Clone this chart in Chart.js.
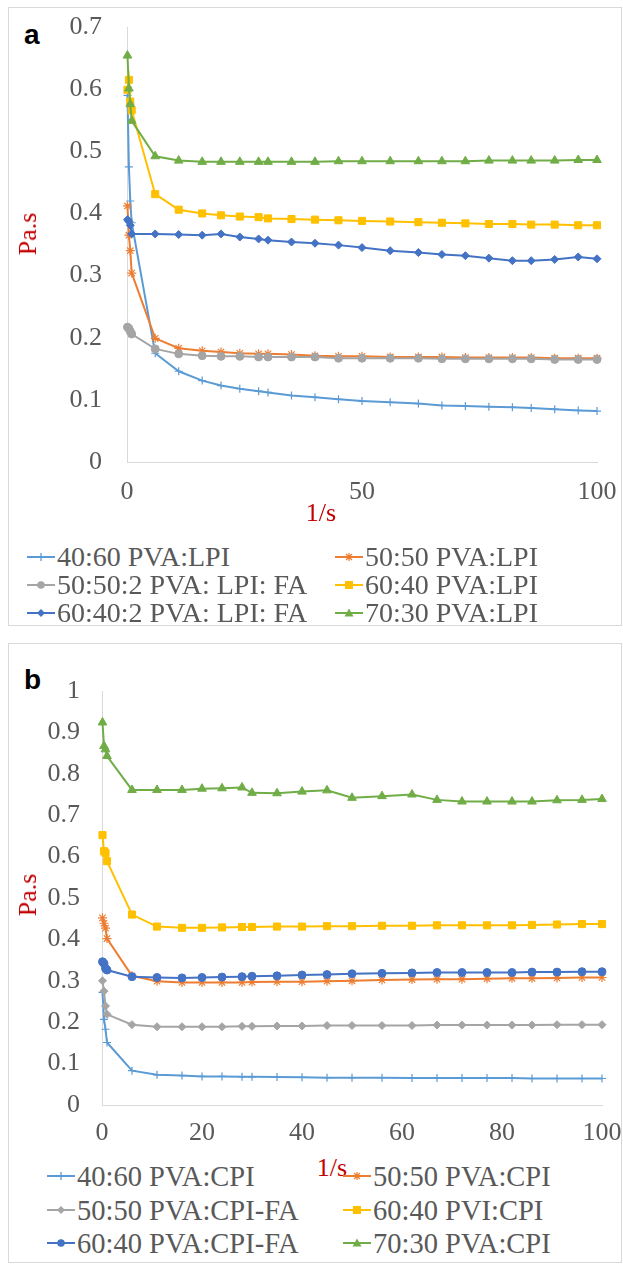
<!DOCTYPE html>
<html>
<head>
<meta charset="utf-8">
<script src="https://cdn.jsdelivr.net/npm/chart.js"></script>
<style>
  body { margin: 0; width: 623px; height: 1264px; position: relative; background: #fff; overflow: hidden;
         font-family: "Liberation Serif", "Times New Roman", serif; }
  .frame { position: absolute; left: 8px; width: 614px; box-sizing: border-box; border: 1px solid #d9d9d9; }
  canvas { position: absolute; left: 8px; }
  .tag { position: absolute; left: 24px; font: bold 28px "Liberation Sans", Arial, sans-serif; line-height: 28px; color: #000; }
  .axis-title { position: absolute; font-size: 26px; line-height: 26px; color: #c00000; white-space: nowrap;
                transform: translate(-50%, -50%); }
  .axis-title.vert { transform: translate(-50%, -50%) rotate(-90deg); }
  .legend-item { position: absolute; white-space: nowrap; color: #595959; display: flex; align-items: center; }
  .legend-item svg { margin-right: 2px; flex: none; }
</style>
</head>
<body>
<div class="frame" style="top:7px;height:619px"></div>
<div class="frame" style="top:643px;height:620px"></div>

<div class="tag" style="top:21px">a</div>
<div class="tag" style="top:666px">b</div>

<canvas id="chartA" width="614" height="500" style="top:7px"></canvas>
<canvas id="chartB" width="614" height="507" style="top:643px"></canvas>

<div class="axis-title vert" style="left:28px;top:234px">Pa.s</div>
<div class="axis-title" style="left:321px;top:513px">1/s</div>
<div class="axis-title vert" style="left:28px;top:895px">Pa.s</div>
<div class="axis-title" style="left:332px;top:1168px">1/s</div>

<div id="legendA"></div>
<div id="legendB"></div>

<script>
// shear rate (1/s), shared by every series
const shearRate = [0.1, 0.4, 0.7, 1, 6, 11, 16, 20, 24, 28, 30, 35, 40, 45, 50, 56, 62, 67, 72, 77, 82, 86, 91, 96, 100];

// panel a - LPI blends, viscosity in Pa.s
const lpiLabels = ['40:60 PVA:LPI', '50:50 PVA:LPI', '50:50:2 PVA: LPI: FA', '60:40 PVA:LPI', '60:40:2 PVA: LPI: FA', '70:30 PVA:LPI'];
const lpi4060 = [0.590, 0.475, 0.420, 0.385, 0.175, 0.146, 0.131, 0.123, 0.118, 0.114, 0.112, 0.107, 0.104,
                 0.101, 0.098, 0.096, 0.094, 0.091, 0.090, 0.089, 0.088, 0.087, 0.085, 0.083, 0.082];
const lpi5050 = [0.412, 0.365, 0.340, 0.304, 0.199, 0.183, 0.179, 0.177, 0.175, 0.174, 0.174, 0.173, 0.171,
                 0.170, 0.170, 0.169, 0.169, 0.169, 0.168, 0.168, 0.168, 0.168, 0.167, 0.167, 0.167];
const lpi5050fa = [0.217, 0.215, 0.210, 0.206, 0.182, 0.174, 0.171, 0.170, 0.170, 0.169, 0.169, 0.169, 0.169,
                   0.167, 0.167, 0.167, 0.167, 0.166, 0.166, 0.166, 0.166, 0.166, 0.165, 0.165, 0.165];
const lpi6040 = [0.599, 0.615, 0.580, 0.566, 0.431, 0.406, 0.400, 0.397, 0.395, 0.394, 0.392, 0.391, 0.390,
                 0.389, 0.388, 0.387, 0.386, 0.385, 0.384, 0.383, 0.383, 0.382, 0.382, 0.381, 0.381];
const lpi6040fa = [0.390, 0.387, 0.381, 0.367, 0.367, 0.366, 0.365, 0.367, 0.362, 0.359, 0.357, 0.354, 0.352,
                   0.349, 0.345, 0.340, 0.337, 0.334, 0.332, 0.328, 0.324, 0.324, 0.326, 0.330, 0.327];
const lpi7030 = [0.654, 0.601, 0.576, 0.549, 0.492, 0.485, 0.483, 0.483, 0.483, 0.483, 0.483, 0.483, 0.483,
                 0.484, 0.484, 0.484, 0.484, 0.484, 0.484, 0.485, 0.485, 0.485, 0.485, 0.486, 0.486];

// panel b - CPI blends
const cpiLabels = ['40:60 PVA:CPI', '50:50 PVA:CPI', '50:50 PVA:CPI-FA', '60:40 PVI:CPI', '60:40 PVA:CPI-FA', '70:30 PVA:CPI'];
const cpi4060 = [0.272, 0.207, 0.183, 0.151, 0.083, 0.073, 0.071, 0.069, 0.069, 0.068, 0.068, 0.0675, 0.067,
                 0.066, 0.066, 0.066, 0.065, 0.065, 0.065, 0.065, 0.065, 0.064, 0.064, 0.064, 0.064];
const cpi5050 = [0.452, 0.439, 0.427, 0.402, 0.312, 0.299, 0.296, 0.296, 0.296, 0.296, 0.297, 0.298, 0.298,
                 0.299, 0.300, 0.302, 0.303, 0.304, 0.304, 0.305, 0.306, 0.306, 0.307, 0.308, 0.308];
const cpi5050fa = [0.300, 0.275, 0.239, 0.219, 0.194, 0.189, 0.189, 0.189, 0.189, 0.190, 0.190, 0.191, 0.191,
                   0.192, 0.192, 0.192, 0.192, 0.193, 0.193, 0.193, 0.193, 0.193, 0.194, 0.194, 0.194];
const cpi6040 = [0.652, 0.613, 0.609, 0.589, 0.460, 0.431, 0.428, 0.428, 0.429, 0.430, 0.430, 0.431, 0.431,
                 0.432, 0.432, 0.433, 0.433, 0.434, 0.434, 0.434, 0.434, 0.435, 0.436, 0.437, 0.437];
const cpi6040fa = [0.346, 0.342, 0.330, 0.326, 0.310, 0.308, 0.307, 0.308, 0.309, 0.310, 0.311, 0.312, 0.314,
                   0.315, 0.317, 0.318, 0.319, 0.320, 0.320, 0.320, 0.320, 0.321, 0.321, 0.322, 0.322];
const cpi7030 = [0.924, 0.867, 0.859, 0.843, 0.761, 0.761, 0.761, 0.764, 0.765, 0.767, 0.754, 0.753, 0.757,
                 0.760, 0.742, 0.746, 0.750, 0.737, 0.733, 0.733, 0.733, 0.733, 0.736, 0.737, 0.739];

const colors = ['#5b9bd5', '#ed7d31', '#a5a5a5', '#ffc000', '#4472c4', '#70ad47'];

function makeSeries(label, values, color, style, radius, i) {
  return {
    label: label,
    data: shearRate.map((x, k) => ({ x: x, y: values[k] })),
    showLine: true,
    borderColor: color,
    backgroundColor: color,
    borderWidth: 2,
    pointStyle: style,
    pointRadius: radius,
    pointBorderWidth: (style === 'cross' || style === 'star') ? 1.2 : 1,
    pointBorderColor: color,
    pointBackgroundColor: color,
    clip: false,
    order: -i   // later series drawn on top
  };
}

const tickFont = { family: '"Liberation Serif", "Times New Roman", serif', size: 26 };

function buildChart(id, datasets, yMax, xStep, yPad, box) {
  return new Chart(document.getElementById(id), {
    type: 'scatter',
    data: { datasets: datasets },
    options: {
      responsive: false,
      animation: false,
      layout: { padding: { left: 0, top: box.top, right: box.right, bottom: 0 } },
      plugins: { legend: { display: false }, tooltip: { enabled: false } },
      scales: {
        x: {
          type: 'linear', min: 0, max: 100,
          grid: { display: false, drawTicks: false },
          border: { display: true, color: '#d9d9d9', width: 1 },
          ticks: { stepSize: xStep, font: tickFont, color: '#595959', padding: box.xPad, maxRotation: 0, autoSkip: false },
          // fixed height, and no extra room for the end labels so the plot area stays put
          afterFit: s => { s.height = 45; s.paddingLeft = 0; s.paddingRight = 0; }
        },
        y: {
          min: 0, max: yMax,
          grid: { display: false, drawTicks: false },
          border: { display: true, color: '#d9d9d9', width: 1 },
          ticks: { stepSize: 0.1, font: tickFont, color: '#595959', padding: yPad,
                   callback: v => String(+v.toFixed(1)) },
          afterFit: s => { s.width = box.left; s.paddingTop = 0; s.paddingBottom = 0; }
        }
      }
    }
  });
}

// simple two-column legend built from the chart's datasets
function markerSvg(style, color) {
  let m = '';
  if (style === 'cross') m = `<path d="M14 3V11M10 7H18" stroke="${color}" stroke-width="1.3"/>`;
  else if (style === 'star') m = `<path d="M14 3V11M10 7H18M11 4L17 10M17 4L11 10" stroke="${color}" stroke-width="1.2"/>`;
  else if (style === 'circle') m = `<circle cx="14" cy="7" r="3.8" fill="${color}"/>`;
  else if (style === 'rect') m = `<rect x="10" y="3" width="8" height="8" fill="${color}"/>`;
  else if (style === 'rectRot') m = `<path d="M14 3L18 7L14 11L10 7Z" fill="${color}"/>`;
  else if (style === 'triangle') m = `<path d="M14 2.5L18.5 10.5H9.5Z" fill="${color}"/>`;
  return `<svg width="28" height="14" viewBox="0 0 28 14"><line x1="0" y1="7" x2="28" y2="7" stroke="${color}" stroke-width="2"/>${m}</svg>`;
}

function buildLegend(chart, holderId, cols, rows, fontSize, rowH) {
  const holder = document.getElementById(holderId);
  chart.data.datasets.forEach((ds, i) => {
    const el = document.createElement('div');
    el.className = 'legend-item';
    el.style.left = cols[i % 2] + 'px';
    el.style.top = (rows[Math.floor(i / 2)] - rowH / 2) + 'px';
    el.style.fontSize = fontSize + 'px';
    el.style.lineHeight = rowH + 'px';
    el.innerHTML = markerSvg(ds.pointStyle, ds.borderColor) + '<span>' + ds.label + '</span>';
    holder.appendChild(el);
  });
}

const stylesA = ['cross', 'star', 'circle', 'rect', 'rectRot', 'triangle'];
const radiiA = [4, 4.5, 4, 5, 4, 5];
const valuesA = [lpi4060, lpi5050, lpi5050fa, lpi6040, lpi6040fa, lpi7030];
const chartA = buildChart('chartA',
  valuesA.map((v, i) => makeSeries(lpiLabels[i], v, colors[i], stylesA[i], radiiA[i], i)),
  0.7, 50, 25, { left: 119, top: 20, right: 25, xPad: 15 });

const stylesB = ['cross', 'star', 'rectRot', 'rect', 'circle', 'triangle'];
const radiiB = [4, 4.5, 4, 5, 4, 5];
const valuesB = [cpi4060, cpi5050, cpi5050fa, cpi6040, cpi6040fa, cpi7030];
const chartB = buildChart('chartB',
  valuesB.map((v, i) => makeSeries(cpiLabels[i], v, colors[i], stylesB[i], radiiB[i], i)),
  1, 20, 22, { left: 94, top: 48, right: 20, xPad: 13 });

buildLegend(chartA, 'legendA', [27, 335], [557, 585, 613], 28, 28);
buildLegend(chartB, 'legendB', [47, 343], [1176, 1210, 1243], 28.5, 33);
</script>
</body>
</html>
